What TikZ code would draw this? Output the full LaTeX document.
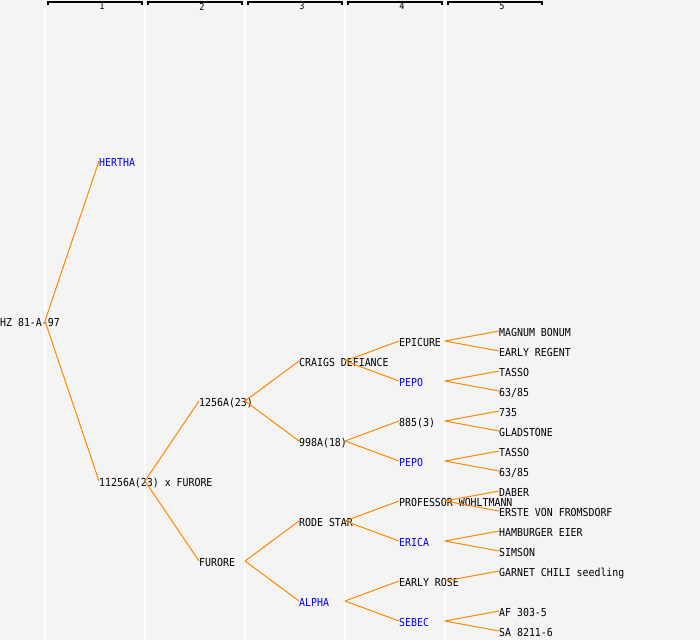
\documentclass[tikz,border=0pt]{standalone}
\usepackage{fontspec}
\newfontfamily\treefont[FakeStretch=0.9]{DejaVu Sans Mono}
\definecolor{bg}{RGB}{244,244,244}
\definecolor{edgeor}{RGB}{255,136,0}
\definecolor{cultblue}{RGB}{0,0,255}
\tikzset{
  lbl/.style={anchor=west, inner sep=0pt, text height=8pt, text depth=0pt, font={\fontsize{11}{13}\treefont}, text=black},
  blu/.style={lbl, text=cultblue},
  edge/.style={draw=edgeor, line width=1pt},
  colline/.style={draw=white, line width=1.3pt},
  brack/.style={draw=black, line width=1.4pt},
  hdr/.style={inner sep=0pt, font={\fontsize{9.5}{10}\treefont}}
}
\begin{document}
\begin{tikzpicture}[x=1pt, y=-1pt]
\useasboundingbox[fill=bg] (0,0) rectangle (700,640);
% column lines
\foreach \cx in {45,145,245,345,445} \draw[colline] (\cx,0) -- (\cx,640);
% header brackets
\foreach \i/\lx in {1/48,2/148,3/248,4/348,5/448} {
  \draw[brack] (\lx,5) -- (\lx,2) -- (\lx+94,2) -- (\lx+94,5);
  \node[hdr] (h\i) at (\lx+54,6.5) {\i};
}
% col 0
\node[lbl] (r) at (0,322) {HZ 81-A-97};
\coordinate (rj) at (45,321);
% col 1
\node[blu] (a) at (99,162) {HERTHA};
\node[lbl] (b) at (99,482) {11256A(23) x FURORE};
\coordinate (bj) at (145,481);
% col 2
\node[lbl] (ba) at (199,402) {1256A(23)};
\node[lbl] (bb) at (199,562) {FURORE};
\coordinate (baj) at (245,401);
\coordinate (bbj) at (245,561);
% col 3
\node[lbl] (c1) at (299,362) {CRAIGS DEFIANCE};
\node[lbl] (c2) at (299,442) {998A(18)};
\node[lbl] (c3) at (299,522) {RODE STAR};
\node[blu] (c4) at (299,602) {ALPHA};
\foreach \k/\yy in {1/361,2/441,3/521,4/601} \coordinate (c\k j) at (345,\yy);
% col 4
\node[lbl] (d1) at (399,342) {EPICURE};
\node[blu] (d2) at (399,382) {PEPO};
\node[lbl] (d3) at (399,422) {885(3)};
\node[blu] (d4) at (399,462) {PEPO};
\node[lbl] (d5) at (399,502) {PROFESSOR WOHLTMANN};
\node[blu] (d6) at (399,542) {ERICA};
\node[lbl] (d7) at (399,582) {EARLY ROSE};
\node[blu] (d8) at (399,622) {SEBEC};
\foreach \k/\yy in {1/341,2/381,3/421,4/461,5/501,6/541,7/581,8/621} \coordinate (d\k j) at (445,\yy);
% col 5
\node[lbl] (e1) at (499,332) {MAGNUM BONUM};
\node[lbl] (e2) at (499,352) {EARLY REGENT};
\node[lbl] (e3) at (499,372) {TASSO};
\node[lbl] (e4) at (499,392) {63/85};
\node[lbl] (e5) at (499,412) {735};
\node[lbl] (e6) at (499,432) {GLADSTONE};
\node[lbl] (e7) at (499,452) {TASSO};
\node[lbl] (e8) at (499,472) {63/85};
\node[lbl] (e9) at (499,492) {DABER};
\node[lbl] (e10) at (499,512) {ERSTE VON FROMSDORF};
\node[lbl] (e11) at (499,532) {HAMBURGER EIER};
\node[lbl] (e12) at (499,552) {SIMSON};
\node[lbl] (e13) at (499,572) {GARNET CHILI seedling};
\node[lbl] (e14) at (499,612) {AF 303-5};
\node[lbl] (e15) at (499,632) {SA 8211-6};
% connectors
\foreach \p/\c in {r/a, r/b, b/ba, b/bb, ba/c1, ba/c2, bb/c3, bb/c4,
  c1/d1, c1/d2, c2/d3, c2/d4, c3/d5, c3/d6, c4/d7, c4/d8,
  d1/e1, d1/e2, d2/e3, d2/e4, d3/e5, d3/e6, d4/e7, d4/e8,
  d5/e9, d5/e10, d6/e11, d6/e12, d7/e13, d8/e14, d8/e15}
  \draw[edge] (\p j) -- ([yshift=1pt]\c.west);
\end{tikzpicture}
\end{document}
